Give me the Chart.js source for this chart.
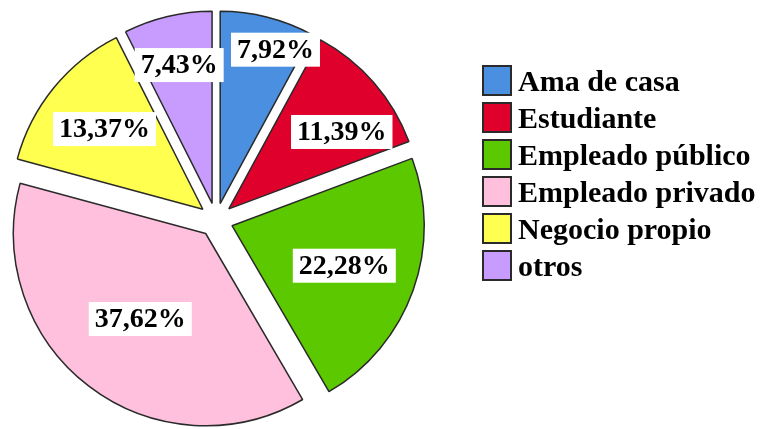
<!DOCTYPE html>
<html lang="es">
<head>
    <meta charset="UTF-8">
    <title>Ocupación</title>
    <script src="https://cdn.jsdelivr.net/npm/chart.js"></script>
    <style>
        html, body {
            margin: 0;
            padding: 0;
            background: #ffffff;
        }
        #wrap {
            position: relative;
            width: 762px;
            height: 429px;
        }
        #pieChart {
            position: absolute;
            left: 0;
            top: 0;
        }
        #legend {
            position: absolute;
            left: 482px;
            top: 62px;
            font-family: "Liberation Serif", "Times New Roman", serif;
            font-weight: bold;
            font-size: 30px;
            color: #000;
        }
        .row {
            display: flex;
            align-items: center;
            height: 37px;
        }
        .swatch {
            width: 26px;
            height: 27px;
            border: 2px solid #2a2a2a;
            margin-right: 6px;
            flex: none;
        }
    </style>
</head>
<body>
    <div id="wrap">
        <canvas id="pieChart" width="762" height="429"></canvas>
        <div id="legend"></div>
    </div>

    <script>
        // chart data
        const categories = ['Ama de casa', 'Estudiante', 'Empleado público', 'Empleado privado', 'Negocio propio', 'otros'];
        const percentages = [7.92, 11.39, 22.28, 37.62, 13.37, 7.43];
        const sliceColors = ['#4a8fe0', '#e0002c', '#5cc800', '#ffc0de', '#ffff50', '#c89cff'];

        // where each percentage box sits inside its slice (fraction of radius, angle nudge in degrees)
        const labelRadius = [0.85, 0.71, 0.62, 0.56, 0.66, 0.74];
        const labelNudge = [5, 6, 0, 0, 0, 0];
        const explodeBy = 17;

        function formatPct(v) {
            return v.toFixed(2).replace('.', ',') + '%';
        }

        // pull every slice out from the centre (Chart.js's own offset also grows small slices)
        const explode = {
            id: 'explode',
            beforeDatasetDraw(chart, args) {
                args.meta.data.forEach(arc => {
                    if (arc._exploded) return;
                    const baseDraw = Object.getPrototypeOf(arc).draw;
                    arc.draw = function (ctx) {
                        const mid = (this.startAngle + this.endAngle) / 2;
                        ctx.save();
                        ctx.translate(Math.cos(mid) * explodeBy, Math.sin(mid) * explodeBy);
                        baseDraw.call(this, ctx);
                        ctx.restore();
                    };
                    arc._exploded = true;
                });
            }
        };

        // draws the white boxed percentage labels
        const boxedLabels = {
            id: 'boxedLabels',
            afterDatasetsDraw(chart) {
                const ctx = chart.ctx;
                const meta = chart.getDatasetMeta(0);
                ctx.save();
                ctx.font = 'bold 28px "Liberation Serif", "Times New Roman", serif';
                ctx.textAlign = 'center';
                ctx.textBaseline = 'middle';
                meta.data.forEach((arc, i) => {
                    const p = arc.getProps(['x', 'y', 'startAngle', 'endAngle', 'outerRadius'], true);
                    const mid = (p.startAngle + p.endAngle) / 2 + labelNudge[i] * Math.PI / 180;
                    const d = explodeBy + labelRadius[i] * p.outerRadius;
                    const lx = p.x + Math.cos(mid) * d;
                    const ly = p.y + Math.sin(mid) * d;
                    const text = formatPct(percentages[i]);
                    const w = ctx.measureText(text).width + 12;
                    const h = 34;
                    ctx.fillStyle = '#ffffff';
                    ctx.fillRect(lx - w / 2, ly - h / 2, w, h);
                    ctx.fillStyle = '#000000';
                    ctx.fillText(text, lx, ly + 1);
                });
                ctx.restore();
            }
        };

        new Chart(document.getElementById('pieChart').getContext('2d'), {
            type: 'pie',
            data: {
                labels: categories,
                datasets: [{
                    data: percentages,
                    backgroundColor: sliceColors,
                    borderColor: '#2a2a2a',
                    borderWidth: 1.5
                }]
            },
            options: {
                responsive: false,
                animation: false,
                layout: {
                    padding: { left: 23, right: 353, top: 27, bottom: 16 }
                },
                plugins: {
                    legend: { display: false },
                    tooltip: { enabled: false }
                }
            },
            plugins: [explode, boxedLabels]
        });

        // legend built from the same arrays
        const legend = document.getElementById('legend');
        categories.forEach((name, i) => {
            const row = document.createElement('div');
            row.className = 'row';
            const sw = document.createElement('span');
            sw.className = 'swatch';
            sw.style.background = sliceColors[i];
            const label = document.createElement('span');
            label.textContent = name;
            row.appendChild(sw);
            row.appendChild(label);
            legend.appendChild(row);
        });
    </script>
</body>
</html>
